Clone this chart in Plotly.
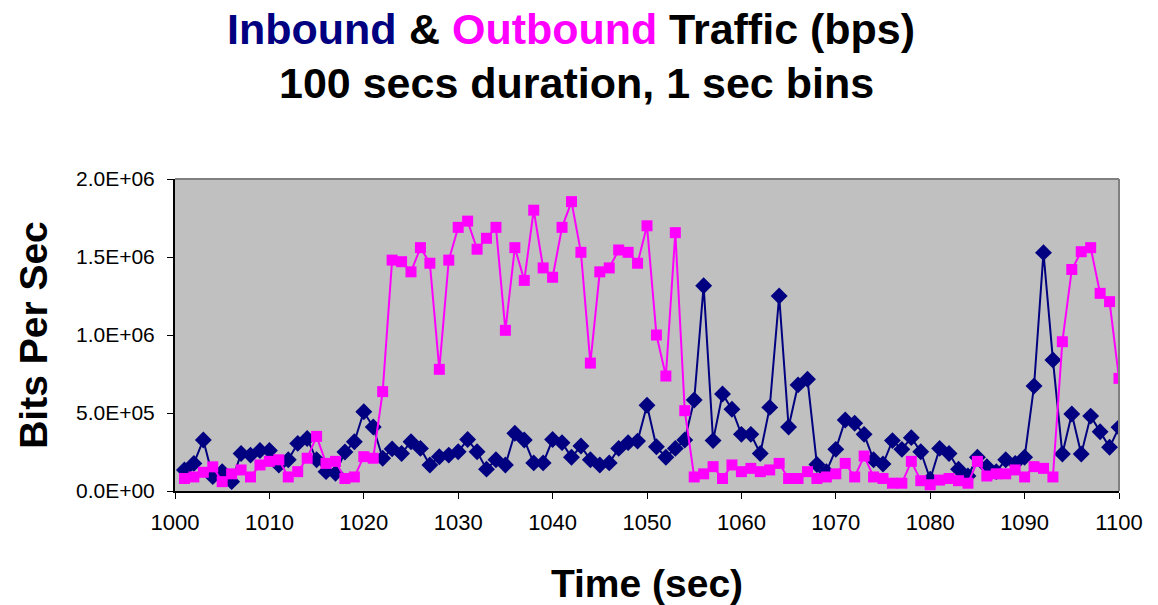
import plotly.graph_objects as go

# Time bins (sec)
times = list(range(1001, 1101))

# Inbound traffic (bps)
inbound = [
    135000, 177000, 327000, 92000, 124000, 60000, 240000, 230000, 260000, 260000,
    167000, 200000, 305000, 337000, 200000, 124000, 113000, 250000, 316000, 508000,
    410000, 210000, 270000, 240000, 316000, 273000, 167000, 220000, 230000, 252000,
    330000, 252000, 140000, 200000, 167000, 370000, 327000, 180000, 180000, 330000,
    310000, 216000, 288000, 200000, 167000, 180000, 273000, 310000, 320000, 550000,
    284000, 216000, 273000, 327000, 583000, 1316000, 323000, 622000, 524000, 363000,
    363000, 240000, 536000, 1250000, 410000, 680000, 716000, 170000, 124000, 267000,
    455000, 434000, 363000, 200000, 173000, 323000, 267000, 342000, 252000, 75000,
    273000, 240000, 140000, 96000, 216000, 156000, 124000, 200000, 177000, 216000,
    673000, 1528000, 840000, 237000, 494000, 237000, 480000, 380000, 280000, 408000,
]

# Outbound traffic (bps)
outbound = [
    80000, 90000, 120000, 155000, 60000, 110000, 135000, 90000, 167000, 190000,
    200000, 90000, 124000, 210000, 350000, 177000, 190000, 80000, 90000, 220000,
    210000, 637000, 1480000, 1470000, 1405000, 1560000, 1460000, 780000, 1480000, 1690000,
    1730000, 1550000, 1620000, 1690000, 1030000, 1560000, 1350000, 1800000, 1430000, 1370000,
    1690000, 1855000, 1530000, 820000, 1405000, 1430000, 1545000, 1530000, 1460000, 1700000,
    1000000, 737000, 1656000, 515000, 90000, 110000, 156000, 80000, 167000, 124000,
    145000, 124000, 135000, 177000, 80000, 80000, 124000, 80000, 90000, 110000,
    177000, 90000, 224000, 90000, 80000, 50000, 50000, 190000, 66000, 40000,
    70000, 80000, 66000, 50000, 190000, 96000, 110000, 110000, 135000, 90000,
    156000, 145000, 90000, 957000, 1420000, 1534000, 1560000, 1267000, 1214000, 722000,
]

y_tickvals = [0, 500000, 1000000, 1500000, 2000000]
y_ticktext = ["0.0E+00", "5.0E+05", "1.0E+06", "1.5E+06", "2.0E+06"]
x_tickvals = list(range(1000, 1101, 10))

# Title pieces (text, colour)
title_parts = [("Inbound", "#000080"), ("&", "black"),
               ("Outbound", "#FF00FF"), ("Traffic (bps)", "black")]
subtitle_text = "100 secs duration, 1 sec bins"

NAVY = "#000080"
MAGENTA = "#FF00FF"
FONT = "Liberation Sans, Arial, sans-serif"

fig = go.Figure()
fig.add_trace(go.Scatter(
    x=times, y=inbound, mode="lines+markers", name="Inbound",
    line=dict(color=NAVY, width=2),
    marker=dict(symbol="diamond", size=13, color=NAVY),
))
fig.add_trace(go.Scatter(
    x=times, y=outbound, mode="lines+markers", name="Outbound",
    line=dict(color=MAGENTA, width=2),
    marker=dict(symbol="square", size=11, color=MAGENTA),
))

W, H = 1158, 605
L, R, T, B = 175, 39, 179, 114
plot_w = W - L - R
plot_h = H - T - B
TITLE_SIZE = 43

# Liberation Sans Bold advance widths (per 1000 em) for laying out the coloured title words
adv = {"I": 278, "n": 611, "b": 611, "o": 611, "u": 611, "d": 611, " ": 278, "&": 722,
       "O": 778, "t": 333, "T": 611, "r": 389, "a": 556, "f": 333, "i": 278, "c": 556,
       "(": 333, "p": 611, "s": 556, ")": 333}

def text_w(s):
    return sum(adv.get(ch, 556) for ch in s) / 1000 * TITLE_SIZE

annotations = []
x_cursor = 227.0
for word, color in title_parts:
    annotations.append(dict(
        text=word, xref="paper", yref="paper",
        x=(x_cursor - L) / plot_w, xanchor="left",
        y=1 + (T - 29) / plot_h, yanchor="middle",
        showarrow=False, borderpad=0, borderwidth=0,
        font=dict(family=FONT, size=TITLE_SIZE, color=color, weight="bold"),
    ))
    x_cursor += text_w(word + " ")

annotations.append(dict(
    text=subtitle_text, xref="paper", yref="paper",
    x=(576 - L) / plot_w, xanchor="center",
    y=1 + (T - 83) / plot_h, yanchor="middle",
    showarrow=False,
    font=dict(family=FONT, size=TITLE_SIZE, color="black", weight="bold"),
))

fig.update_layout(
    width=W, height=H,
    paper_bgcolor="white",
    plot_bgcolor="#C0C0C0",
    showlegend=False,
    margin=dict(l=L, r=R, t=T, b=B, autoexpand=False),
    font=dict(family=FONT, color="black"),
    annotations=annotations,
    xaxis=dict(
        range=[1000, 1100],
        tickmode="array", tickvals=x_tickvals,
        ticks="outside", ticklen=6, tickcolor="black", tickwidth=1,
        ticklabelstandoff=5,
        tickfont=dict(family=FONT, size=22, color="black"),
        showgrid=False, zeroline=False,
        showline=True, linecolor="black", linewidth=2,
        title=dict(text="Time (sec)", standoff=37,
                   font=dict(family=FONT, size=39, color="black", weight="bold")),
    ),
    yaxis=dict(
        range=[0, 2000000],
        tickmode="array", tickvals=y_tickvals, ticktext=y_ticktext,
        ticks="outside", ticklen=6, tickcolor="black", tickwidth=1,
        ticklabelstandoff=8,
        tickfont=dict(family=FONT, size=21, color="black"),
        showgrid=False, zeroline=False,
        showline=True, linecolor="black", linewidth=2,
        title=dict(text="Bits Per Sec", standoff=16,
                   font=dict(family=FONT, size=39, color="black", weight="bold")),
    ),
    shapes=[
        dict(type="line", xref="paper", yref="paper", x0=0, x1=1, y0=1, y1=1,
             line=dict(color="#808080", width=2)),
        dict(type="line", xref="paper", yref="paper", x0=1, x1=1, y0=0, y1=1,
             line=dict(color="#808080", width=2)),
    ],
)

fig.write_html(
    "out.html",
    config={"displayModeBar": False},
    post_script="document.body.style.margin='0';document.documentElement.style.overflow='hidden';",
)
